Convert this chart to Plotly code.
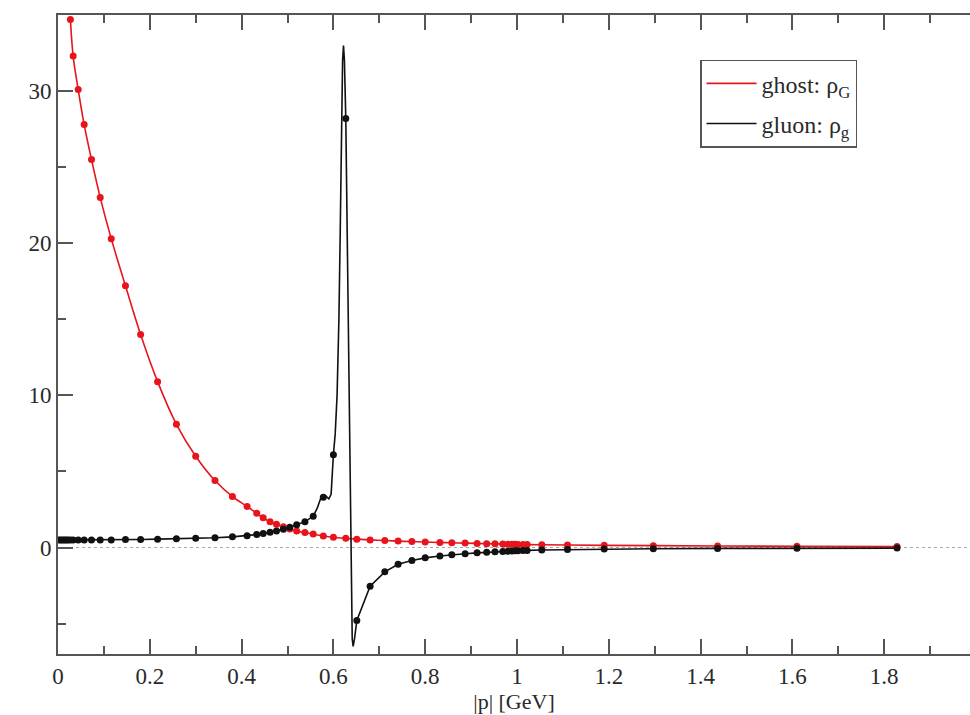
import plotly.graph_objects as go

# Momentum grid |p| [GeV] shared by both spectral functions
p_grid = [0.002, 0.006, 0.010, 0.014, 0.018, 0.022, 0.027, 0.033, 0.044, 0.057,
          0.073, 0.092, 0.116, 0.147, 0.180, 0.217, 0.258, 0.300, 0.342, 0.380,
          0.412, 0.433, 0.447, 0.462, 0.476, 0.491, 0.505, 0.520, 0.538, 0.556,
          0.578, 0.600, 0.627, 0.651, 0.680, 0.712, 0.741, 0.771, 0.800, 0.832,
          0.858, 0.887, 0.913, 0.934, 0.952, 0.969, 0.980, 0.989, 0.996, 1.002,
          1.013, 1.022, 1.054, 1.110, 1.190, 1.297, 1.437, 1.610, 1.828]

# Ghost spectral function rho_G (first six momenta lie above the plotted range)
ghost_p = p_grid[6:]
ghost_rho = [34.7, 32.3, 30.1, 27.8, 25.5, 23.0, 20.3, 17.2, 14.0, 10.9,
             8.1, 6.0, 4.4, 3.35, 2.7, 2.25, 1.95, 1.7, 1.52, 1.36,
             1.22, 1.08, 0.98, 0.88, 0.76, 0.67, 0.60, 0.55, 0.50, 0.46,
             0.42, 0.39, 0.36, 0.33, 0.31, 0.29, 0.27, 0.25, 0.24, 0.23,
             0.22, 0.21, 0.21, 0.20, 0.20, 0.19, 0.18, 0.16, 0.14, 0.12,
             0.10, 0.08, 0.06]

# Gluon spectral function rho_g
gluon_p = p_grid
gluon_rho = [0.50, 0.50, 0.50, 0.50, 0.50, 0.50, 0.50, 0.50, 0.50, 0.50,
             0.50, 0.50, 0.50, 0.52, 0.53, 0.55, 0.57, 0.60, 0.64, 0.70,
             0.78, 0.85, 0.92, 1.00, 1.08, 1.20, 1.33, 1.50, 1.70, 2.05,
             3.30, 6.10, 28.2, -4.8, -2.55, -1.60, -1.10, -0.85, -0.68, -0.56,
             -0.47, -0.41, -0.35, -0.31, -0.28, -0.26, -0.24, -0.23, -0.22, -0.21,
             -0.20, -0.19, -0.16, -0.13, -0.10, -0.08, -0.06, -0.05, -0.04]

# Extra vertices of the continuous gluon curve (shoulder, peak and dip)
gluon_curve_p = [0.565, 0.572, 0.583, 0.590, 0.595, 0.604, 0.608, 0.612, 0.615,
                 0.618, 0.620, 0.622, 0.624, 0.631, 0.635, 0.638, 0.641, 0.643, 0.646]
gluon_curve_rho = [2.6, 3.2, 3.4, 3.2, 3.5, 7.5, 10.0, 15.0, 21.0,
                   28.0, 32.0, 33.0, 32.0, 18.0, 6.0, -2.0, -6.0, -6.5, -6.0]

x_ticks = [0, 0.2, 0.4, 0.6, 0.8, 1, 1.2, 1.4, 1.6, 1.8, 2]
y_ticks = [0, 10, 20, 30]

RED = "#e8141b"
BLACK = "#111111"
AXIS = "#555555"
TEXT = "#2a2a2a"
FONT = "Liberation Serif"

curve = sorted(zip(list(gluon_p) + gluon_curve_p, list(gluon_rho) + gluon_curve_rho))
curve_p = [c[0] for c in curve]
curve_rho = [c[1] for c in curve]

x_max = 2 * 912 / 918  # axis runs to |p| = 2 just past the right edge

fig = go.Figure()

# ghost
fig.add_trace(go.Scatter(x=ghost_p, y=ghost_rho, mode="lines", line=dict(color=RED, width=1.6, shape="spline"),
                         showlegend=False, hoverinfo="skip"))
fig.add_trace(go.Scatter(x=ghost_p, y=ghost_rho, mode="markers", marker=dict(color=RED, size=7),
                         showlegend=False))
# gluon
fig.add_trace(go.Scatter(x=curve_p, y=curve_rho, mode="lines", line=dict(color=BLACK, width=1.6),
                         showlegend=False, hoverinfo="skip"))
fig.add_trace(go.Scatter(x=gluon_p, y=gluon_rho, mode="markers", marker=dict(color=BLACK, size=7),
                         showlegend=False))

# legend entries (line samples only)
fig.add_trace(go.Scatter(x=[None], y=[None], mode="lines", line=dict(color=RED, width=1.6),
                         name="ghost: \u03c1<sub>G</sub>", legendgroup="ghost"))
fig.add_trace(go.Scatter(x=[None], y=[None], mode="lines", line=dict(color=BLACK, width=1.6),
                         name="gluon: \u03c1<sub>g</sub>", legendgroup="gluon"))

# dotted zero line
fig.add_shape(type="line", xref="paper", x0=0, x1=1, yref="y", y0=0, y1=0,
              line=dict(color="#aaaaaa", width=1, dash="dot"), layer="below")

fig.update_layout(
    width=970, height=715,
    margin=dict(l=58, r=0, t=15, b=61),
    paper_bgcolor="white", plot_bgcolor="white",
    font=dict(family=FONT, size=23, color=TEXT),
    legend=dict(x=0.704, y=0.93, xanchor="left", yanchor="top",
                bordercolor=AXIS, borderwidth=1.5, bgcolor="white",
                font=dict(family=FONT, size=24, color=TEXT),
                itemwidth=50, traceorder="grouped", tracegroupgap=6),
    annotations=[dict(text="2", xref="paper", yref="paper", x=2 / x_max, y=0,
                      xanchor="center", yanchor="top", yshift=-6, showarrow=False,
                      font=dict(family=FONT, size=23, color=TEXT))],
)

fig.update_xaxes(
    range=[0, x_max], tickvals=x_ticks, ticktext=[f"{t:g}" for t in x_ticks],
    showline=True, linecolor=AXIS, linewidth=2, mirror="ticks",
    ticks="inside", ticklen=15, tickwidth=1.5, tickcolor=AXIS,
    minor=dict(dtick=0.1, tick0=0, ticks="inside", ticklen=8, tickwidth=1.5, tickcolor=AXIS),
    showgrid=False, zeroline=False,
    title=dict(text="|p| [GeV]", standoff=5, font=dict(family=FONT, size=22, color=TEXT)),
)
fig.update_yaxes(
    range=[-7, 35], tickvals=y_ticks,
    showline=True, linecolor=AXIS, linewidth=2, mirror=False,
    ticks="inside", ticklen=15, tickwidth=1.5, tickcolor=AXIS,
    minor=dict(dtick=5, tick0=0, ticks="inside", ticklen=8, tickwidth=1.5, tickcolor=AXIS),
    showgrid=False, zeroline=False,
)

fig.write_html("out.html")
